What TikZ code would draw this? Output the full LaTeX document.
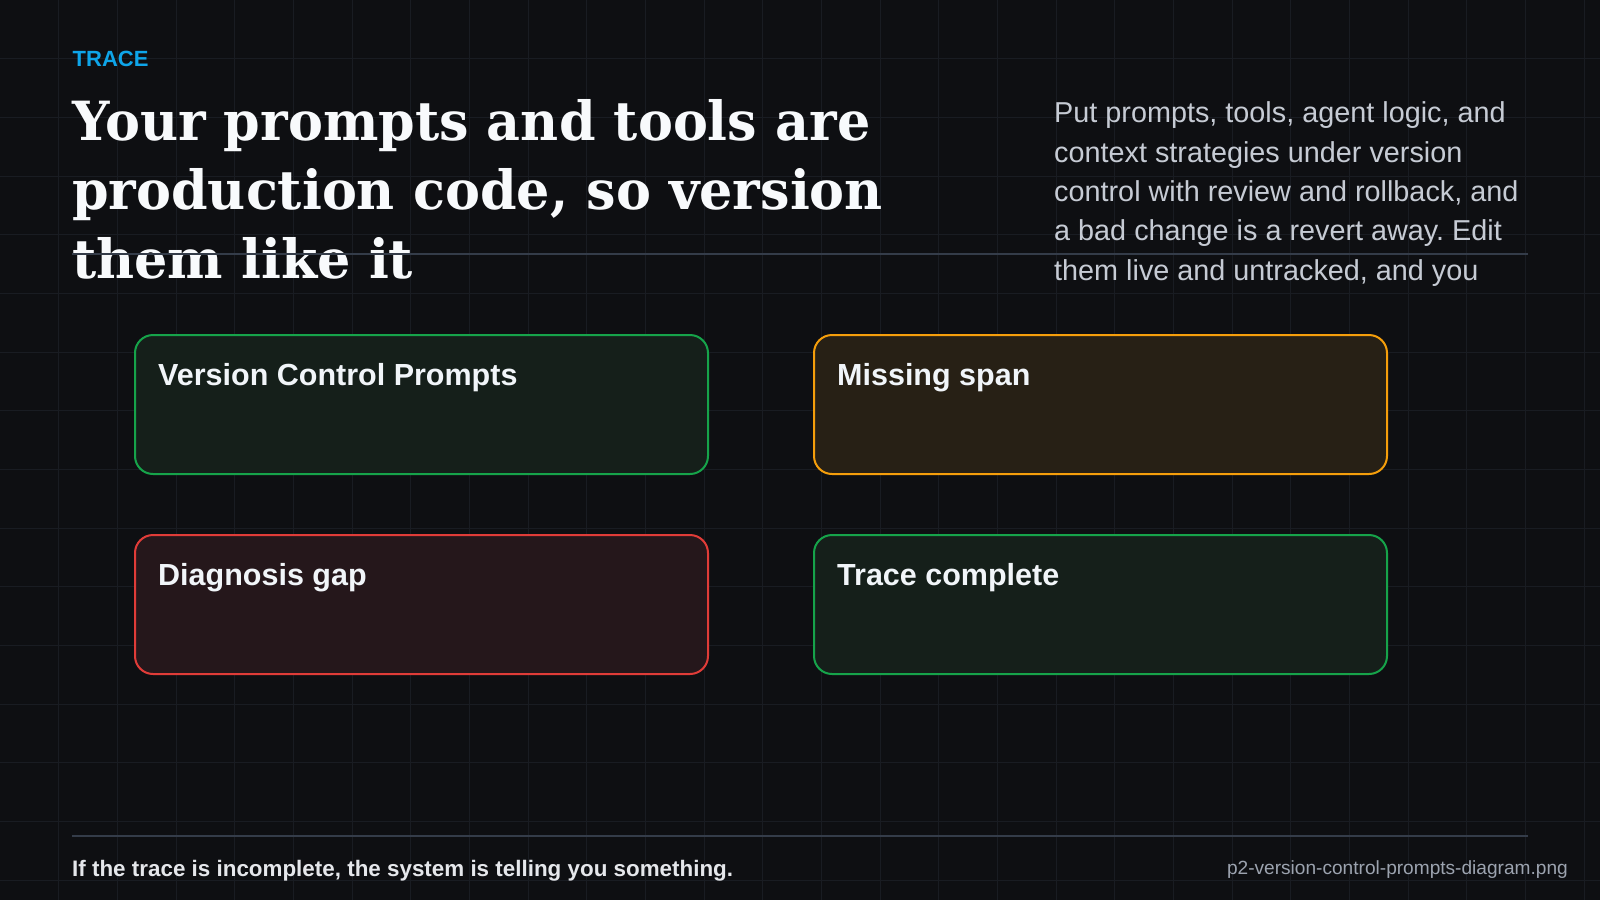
\documentclass[tikz,border=0pt]{standalone}
\usepackage{fontspec}
\setmainfont{Liberation Sans}
\newfontfamily\headfont[FakeStretch=0.97]{DejaVu Serif}
\usetikzlibrary{positioning}
\frenchspacing

\definecolor{bgc}{RGB}{14,15,18}
\definecolor{gridc}{RGB}{25,28,34}
\definecolor{rulec}{RGB}{52,60,73}
\definecolor{kicker}{RGB}{14,165,233}
\definecolor{headc}{RGB}{248,250,252}
\definecolor{parac}{RGB}{198,203,212}
\definecolor{cardtext}{RGB}{241,245,249}
\definecolor{okline}{RGB}{22,163,74}
\definecolor{okfill}{RGB}{21,31,26}
\definecolor{warnline}{RGB}{245,158,11}
\definecolor{warnfill}{RGB}{39,32,21}
\definecolor{badline}{RGB}{224,60,56}
\definecolor{badfill}{RGB}{37,23,27}
\definecolor{footc}{RGB}{229,231,235}
\definecolor{filec}{RGB}{156,163,175}

\begin{document}
\begin{tikzpicture}[x=1pt,y=-1pt,
  txt/.style={inner sep=0pt,anchor=base west},
  card/.style={rounded corners=18pt,line width=2pt,minimum width=573pt,
    minimum height=139pt,inner sep=0pt,anchor=north west},
  cardtitle/.style={txt,text=cardtext,font=\fontsize{30.5}{36}\selectfont\bfseries},
  gridline/.style={draw=gridc,line width=1pt},
  rule/.style={draw=rulec,line width=2pt}]

  % Background and grid
  \useasboundingbox (0,0) rectangle (1600,900);
  \fill[bgc] (0,0) rectangle (1600,900);
  \foreach \k in {1,...,27} \draw[gridline] ({\k*58.67},0) -- ({\k*58.67},900);
  \foreach \k in {1,...,15} \draw[gridline] (0,{\k*58.67}) -- (1600,{\k*58.67});

  % Heading
  \node[txt,text=kicker,font=\fontsize{22}{26}\selectfont\bfseries] (kicker) at (72.5,66.7) {TRACE};
  \foreach \t [count=\i] in {Your prompts and tools are,{production code, so version},them like it}
    \node[txt,text=headc,font=\fontsize{54}{60}\headfont\bfseries] (head\i) at (72,{140+(\i-1)*69}) {\t};

  % Side text
  \foreach \t [count=\i] in {{Put prompts, tools, agent logic, and},context strategies under version,
      {control with review and rollback, and},a bad change is a revert away. Edit,{them live and untracked, and you}}
    \node[txt,text=parac,font=\fontsize{28.8}{34}\selectfont] (para\i) at (1054,{122.7+(\i-1)*39.4}) {\t};

  \coordinate (ruleA) at (72,254);
  \coordinate (ruleB) at (1528,254);
  \draw[rule] (ruleA) -- (ruleB);

  % Cards
  \node[card,draw=okline,fill=okfill] (vcp) at (134,334) {};
  \node[card,draw=warnline,fill=warnfill] (span) at (813,334) {};
  \node[card,draw=badline,fill=badfill] (gap) at (134,534) {};
  \node[card,draw=okline,fill=okfill] (done) at (813,534) {};

  \node[cardtitle] (vcpT) at ([xshift=24pt,yshift=-51pt]vcp.north west) {Version Control Prompts};
  \node[cardtitle] (spanT) at ([xshift=24pt,yshift=-51pt]span.north west) {Missing span};
  \node[cardtitle] (gapT) at ([xshift=24pt,yshift=-51pt]gap.north west) {Diagnosis gap};
  \node[cardtitle] (doneT) at ([xshift=24pt,yshift=-51pt]done.north west) {Trace complete};

  % Footer
  \coordinate (footA) at (72,836);
  \coordinate (footB) at (1528,836);
  \draw[rule] (footA) -- (footB);
  \node[txt,text=footc,font=\fontsize{22.4}{26}\selectfont\bfseries] (note) at (72,876.7)
    {If the trace is incomplete, the system is telling you something.};
  \node[txt,anchor=base east,text=filec,font=\fontsize{19.1}{23}\selectfont] (file) at (1568,874)
    {p2-version-control-prompts-diagram.png};
\end{tikzpicture}
\end{document}
